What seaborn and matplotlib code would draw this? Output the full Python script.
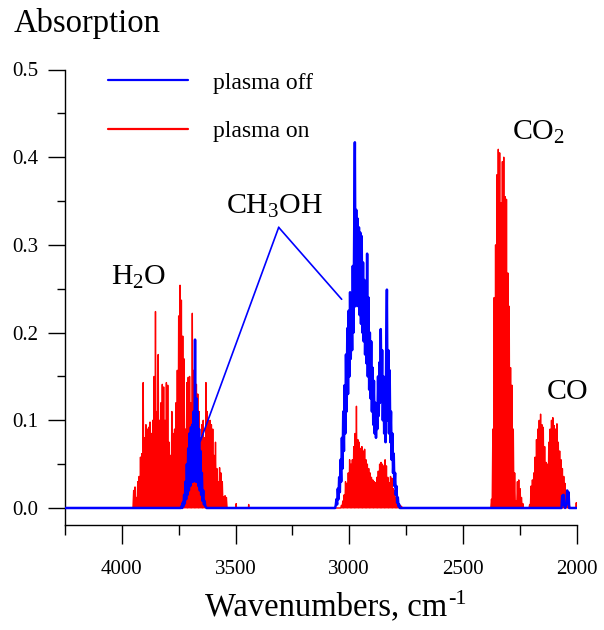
import numpy as np
import matplotlib
matplotlib.use("Agg")
import matplotlib.pyplot as plt
from matplotlib.lines import Line2D
from matplotlib.ticker import MultipleLocator, FormatStrFormatter
import seaborn as sns

sns.set_style("ticks")
plt.rcParams['font.family'] = ['Liberation Serif', 'DejaVu Serif']
plt.rcParams['mathtext.fontset'] = 'custom'
plt.rcParams['mathtext.rm'] = 'Liberation Serif'
plt.rcParams['mathtext.it'] = 'Liberation Serif:italic'
plt.rcParams['mathtext.bf'] = 'Liberation Serif:bold'
for k in ['axes.edgecolor', 'xtick.color', 'ytick.color', 'text.color', 'axes.labelcolor']:
    plt.rcParams[k] = 'black'

# ---------------- data ----------------
x_range = [4250, 2000]
x_major = [4000, 3500, 3000, 2500, 2000]
x_minor = [4250, 3750, 3250, 2750, 2250]
y_major = [0.0, 0.1, 0.2, 0.3, 0.4, 0.5]

# plasma on (red): rotational line peaks, 6 cm-1 apart, baseline between lines
red_h2o_start = 3954
red_h2o = [0.000, 0.020, 0.024, 0.012, 0.030, 0.036, 0.058, 0.062, 0.143, 0.080,
           0.095, 0.090, 0.092, 0.098, 0.085, 0.100, 0.150, 0.224, 0.110, 0.175,
           0.100, 0.120, 0.141, 0.138, 0.100, 0.143, 0.140, 0.075, 0.060, 0.110,
           0.085, 0.090, 0.120, 0.157, 0.219, 0.254, 0.237, 0.196, 0.170, 0.090,
           0.143, 0.149, 0.150, 0.120, 0.222, 0.157, 0.155, 0.141, 0.130, 0.110,
           0.080, 0.095, 0.100, 0.080, 0.143, 0.110, 0.100, 0.100, 0.095, 0.090,
           0.060, 0.075, 0.045, 0.030, 0.046, 0.040, 0.030, 0.013, 0.014, 0.012, 0.000]
red_ch3oh_start = 3034
red_ch3oh = [0.003, 0.008, 0.015, 0.030, 0.028, 0.040, 0.055, 0.050, 0.055, 0.070,
             0.085, 0.116, 0.078, 0.075, 0.068, 0.070, 0.065, 0.067, 0.055, 0.050,
             0.045, 0.040, 0.035, 0.032, 0.030, 0.029, 0.035, 0.042, 0.050, 0.052,
             0.050, 0.048, 0.055, 0.048, 0.035, 0.029, 0.036, 0.034, 0.022, 0.020,
             0.012, 0.010, 0.004, 0.003, 0.002]
red_co2_start = 2374
red_co2 = [0.010, 0.090, 0.240, 0.300, 0.380, 0.409, 0.405, 0.348, 0.395, 0.400,
           0.355, 0.352, 0.268, 0.230, 0.160, 0.140, 0.090, 0.040, 0.008, 0.030,
           0.032, 0.022, 0.012, 0.005]
red_co_start = 2206
red_co = [0.004, 0.025, 0.032, 0.040, 0.058, 0.078, 0.090, 0.100, 0.107, 0.095,
          0.092, 0.070, 0.052, 0.050, 0.075, 0.090, 0.100, 0.103, 0.094, 0.090,
          0.096, 0.075, 0.065, 0.055, 0.045, 0.036, 0.028, 0.020, 0.012, 0.004]
red_extra_wn = [3497, 3442, 2001]
red_extra = [0.005, 0.004, 0.006]
line_spacing = 6

# plasma off (blue): noisy absorbance trace sampled every 3 cm-1
blue_h2o_start = 3741
blue_h2o = [0.000, 0.002, 0.000, 0.006, 0.002, 0.015, 0.005, 0.030, 0.010, 0.050,
            0.015, 0.068, 0.020, 0.085, 0.025, 0.092, 0.030, 0.095, 0.030, 0.110,
            0.035, 0.192, 0.030, 0.125, 0.030, 0.110, 0.025, 0.090, 0.020, 0.065,
            0.015, 0.040, 0.008, 0.020, 0.004, 0.008, 0.002, 0.001, 0.000]
blue_ch3oh_start = 3062
blue_ch3oh = [0.000, 0.003, 0.010, 0.004, 0.022, 0.010, 0.035, 0.018, 0.055, 0.030,
              0.080, 0.045, 0.110, 0.065, 0.140, 0.085, 0.175, 0.110, 0.205, 0.130,
              0.225, 0.150, 0.246, 0.170, 0.235, 0.180, 0.276, 0.200, 0.318, 0.417,
              0.230, 0.340, 0.240, 0.330, 0.230, 0.320, 0.220, 0.314, 0.210, 0.310,
              0.200, 0.280, 0.190, 0.260, 0.175, 0.230, 0.165, 0.290, 0.150, 0.240,
              0.135, 0.200, 0.125, 0.190, 0.110, 0.160, 0.095, 0.145, 0.085, 0.120,
              0.080, 0.110, 0.090, 0.150, 0.105, 0.166, 0.120, 0.204, 0.125, 0.180,
              0.100, 0.150, 0.085, 0.120, 0.075, 0.180, 0.249, 0.100, 0.180, 0.085,
              0.157, 0.075, 0.110, 0.055, 0.085, 0.040, 0.062, 0.025, 0.040, 0.015,
              0.025, 0.006, 0.012, 0.002, 0.004, 0.000]
blue_co_wn = [2066, 2063, 2060, 2057, 2054, 2050, 2044, 2041, 2038, 2035, 2032]
blue_co = [0.000, 0.014, 0.004, 0.015, 0.003, 0.000, 0.004, 0.020, 0.006, 0.018, 0.000]
blue_step = 3

labels = ["plasma off", "plasma on"]
species = [r"H$_2$O", r"CH$_3$OH", r"CO$_2$", "CO"]
species_pos = [(4047, 0.255), (3540, 0.336), (2283, 0.42), (2133, 0.124)]
pointer_apex = (3310, 0.320)
pointer_ends = [(3655, 0.076), (3033, 0.238)]


# ---------------- build series ----------------
def spikes(start, peaks):
    xs, ys = [start + line_spacing / 2], [0.0]
    for i, h in enumerate(peaks):
        w = start - line_spacing * i
        xs += [w, w - line_spacing / 2]
        ys += [h, 0.0]
    return xs, ys


def trace(start, vals):
    return list(start - blue_step * np.arange(len(vals))), list(vals)


rx, ry = [x_range[0]], [0.0]
a, b = spikes(red_h2o_start, red_h2o); rx += a; ry += b
for w, h in zip(red_extra_wn[:2], red_extra[:2]):
    rx += [w + 1, w, w - 1]; ry += [0.0, h, 0.0]
for st, pk in [(red_ch3oh_start, red_ch3oh), (red_co2_start, red_co2), (red_co_start, red_co)]:
    a, b = spikes(st, pk); rx += a; ry += b
rx += [red_extra_wn[2] + 1, red_extra_wn[2]]; ry += [0.0, red_extra[2]]
rx += [x_range[1]]; ry += [0.0]

bx, by = [x_range[0]], [0.0]
for st, v in [(blue_h2o_start, blue_h2o), (blue_ch3oh_start, blue_ch3oh)]:
    a, b = trace(st, v); bx += a; by += b
bx += blue_co_wn; by += blue_co
bx += [x_range[1]]; by += [0.0]

# ---------------- plot ----------------
fig = plt.figure(figsize=(6.04, 6.30), dpi=100)
ax = fig.add_axes([65 / 604, 1 - 525 / 630, (576.5 - 65) / 604, (525 - 69.5) / 630])

sns.lineplot(x=rx, y=ry, sort=False, estimator=None, color='#ff0000', lw=1.0, ax=ax, zorder=2)
sns.lineplot(x=bx, y=by, sort=False, estimator=None, color='#0000ff', lw=1.8, ax=ax, zorder=3)

# pointer lines for CH3OH
for end in pointer_ends:
    ax.plot([pointer_apex[0], end[0]], [pointer_apex[1], end[1]], color='#0000ff', lw=1.2, zorder=4)

for txt, (x, y) in zip(species, species_pos):
    ax.text(x, y, txt, fontsize=21.5, ha='left', va='baseline', color='black')

ax.set_xlim(*x_range)
ax.set_ylim(-0.0194, 0.5)
ax.set_xticks(x_major)
ax.set_xticks(x_minor, minor=True)
ax.set_yticks(y_major)
ax.yaxis.set_minor_locator(MultipleLocator(0.05))
ax.yaxis.set_major_formatter(FormatStrFormatter('%.1f'))
ax.tick_params(axis='x', which='major', direction='out', length=13.5, width=1.0, labelsize=15, pad=11.5)
ax.tick_params(axis='x', which='minor', direction='out', length=7, width=1.0)
ax.tick_params(axis='y', which='major', direction='out', length=12, width=1.0, labelsize=15, pad=7)
ax.tick_params(axis='y', which='minor', direction='out', length=6, width=1.0)
for s in ['top', 'right']:
    ax.spines[s].set_visible(False)
for s in ['left', 'bottom']:
    ax.spines[s].set_linewidth(1.0)
ax.set_xlabel("")
ax.set_ylabel("")

# x axis title with a hyphen-style superscript
xl = fig.text(205 / 604, 1 - 615 / 630, "Wavenumbers, cm", fontsize=23.5, ha='left', va='baseline')
fig.canvas.draw()
ax.annotate("-1", xy=(1.0, 1.0), xycoords=xl, xytext=(0.5, 1.0), textcoords='offset points',
            fontsize=16, ha='left', va='top')
fig.text(14 / 604, 1 - 31.7 / 630, "Absorption", fontsize=23.5, ha='left', va='baseline')

handles = [Line2D([], [], color='#0000ff', lw=1.6), Line2D([], [], color='#ff0000', lw=1.6)]
ax.legend(handles, labels, loc='upper left', bbox_to_anchor=(108 / 604, 1 - 72 / 630),
          bbox_transform=fig.transFigure, frameon=False, fontsize=17, borderpad=0,
          borderaxespad=0, handlelength=3.4, handletextpad=1.05, labelspacing=1.15)

fig.savefig("out.png", dpi=100)
